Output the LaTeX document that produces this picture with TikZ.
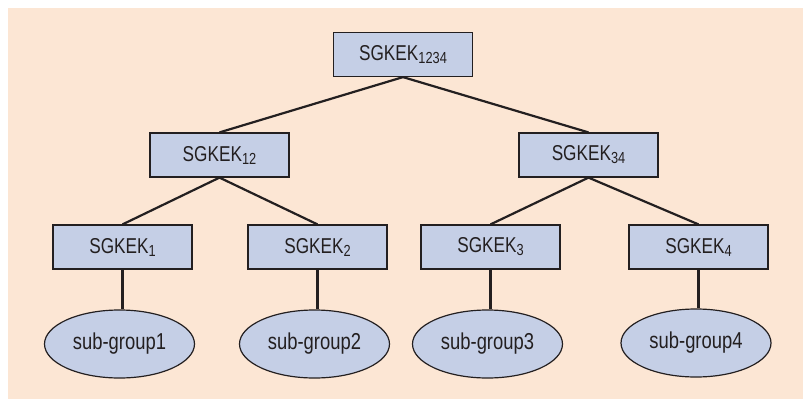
\documentclass[tikz,border=0pt]{standalone}
\usepackage{fontspec}
\setmainfont{Liberation Sans}[FakeStretch=0.8]
\usepackage{tikz}
\usetikzlibrary{shapes.geometric}

\definecolor{peach}{RGB}{252,230,212}
\definecolor{keyblue}{RGB}{197,207,230}
\definecolor{ink}{RGB}{35,31,32}

% key index set as a lowered, smaller number
\newcommand{\kidx}[1]{\raisebox{-3pt}{\fontsize{16}{16}\selectfont #1}}

\tikzset{
  keybox/.style={draw=ink, line width=1.2pt, fill=keyblue, text=ink,
    minimum width=139pt, minimum height=44pt, inner sep=0pt,
    font=\fontsize{21.5}{24}\selectfont},
  grpnode/.style={ellipse, draw=ink, line width=1.2pt, fill=keyblue, text=ink,
    minimum width=150pt, minimum height=68pt, inner sep=0pt,
    font=\fontsize{23}{26}\selectfont},
  link/.style={draw=ink, line width=2.2pt}
}

\begin{document}
\begin{tikzpicture}[x=1pt, y=-1pt]
      % Page and background
      \useasboundingbox (0,0) rectangle (803,399);
      \fill[peach] (8,8) rectangle (803,399);
      % Key tree
      \node[keybox] (k1234) at (403,54.5) {SGKEK\kidx{1234}};
      \node[keybox] (k12) at (219.5,155) {SGKEK\kidx{12}};
      \node[keybox] (k34) at (588.5,155) {SGKEK\kidx{34}};
      \node[keybox] (k1) at (122.5,247) {SGKEK\kidx{1}};
      \node[keybox] (k2) at (317.5,247) {SGKEK\kidx{2}};
      \node[keybox] (k3) at (490.5,247) {SGKEK\kidx{3}};
      \node[keybox] (k4) at (698.5,247) {SGKEK\kidx{4}};
      % Sub-groups
      \node[grpnode] (g1) at (119.5,344) {sub-group1};
      \node[grpnode] (g2) at (314.5,344) {sub-group2};
      \node[grpnode] (g3) at (487.5,344) {sub-group3};
      \node[grpnode] (g4) at (696,343) {sub-group4};
      % Branches
      \draw[link] (k1234.south) -- (k12.north);
      \draw[link] (k1234.south) -- (k34.north);
      \draw[link] (k12.south) -- (k1.north);
      \draw[link] (k12.south) -- (k2.north);
      \draw[link] (k34.south) -- (k3.north);
      \draw[link] (k34.south) -- (k4.north);
      \draw[link] (k1.south) -- (k1.south |- g1.north);
      \draw[link] (k2.south) -- (k2.south |- g2.north);
      \draw[link] (k3.south) -- (k3.south |- g3.north);
      \draw[link] (k4.south) -- (k4.south |- g4.north);
    \end{tikzpicture}
\end{document}
